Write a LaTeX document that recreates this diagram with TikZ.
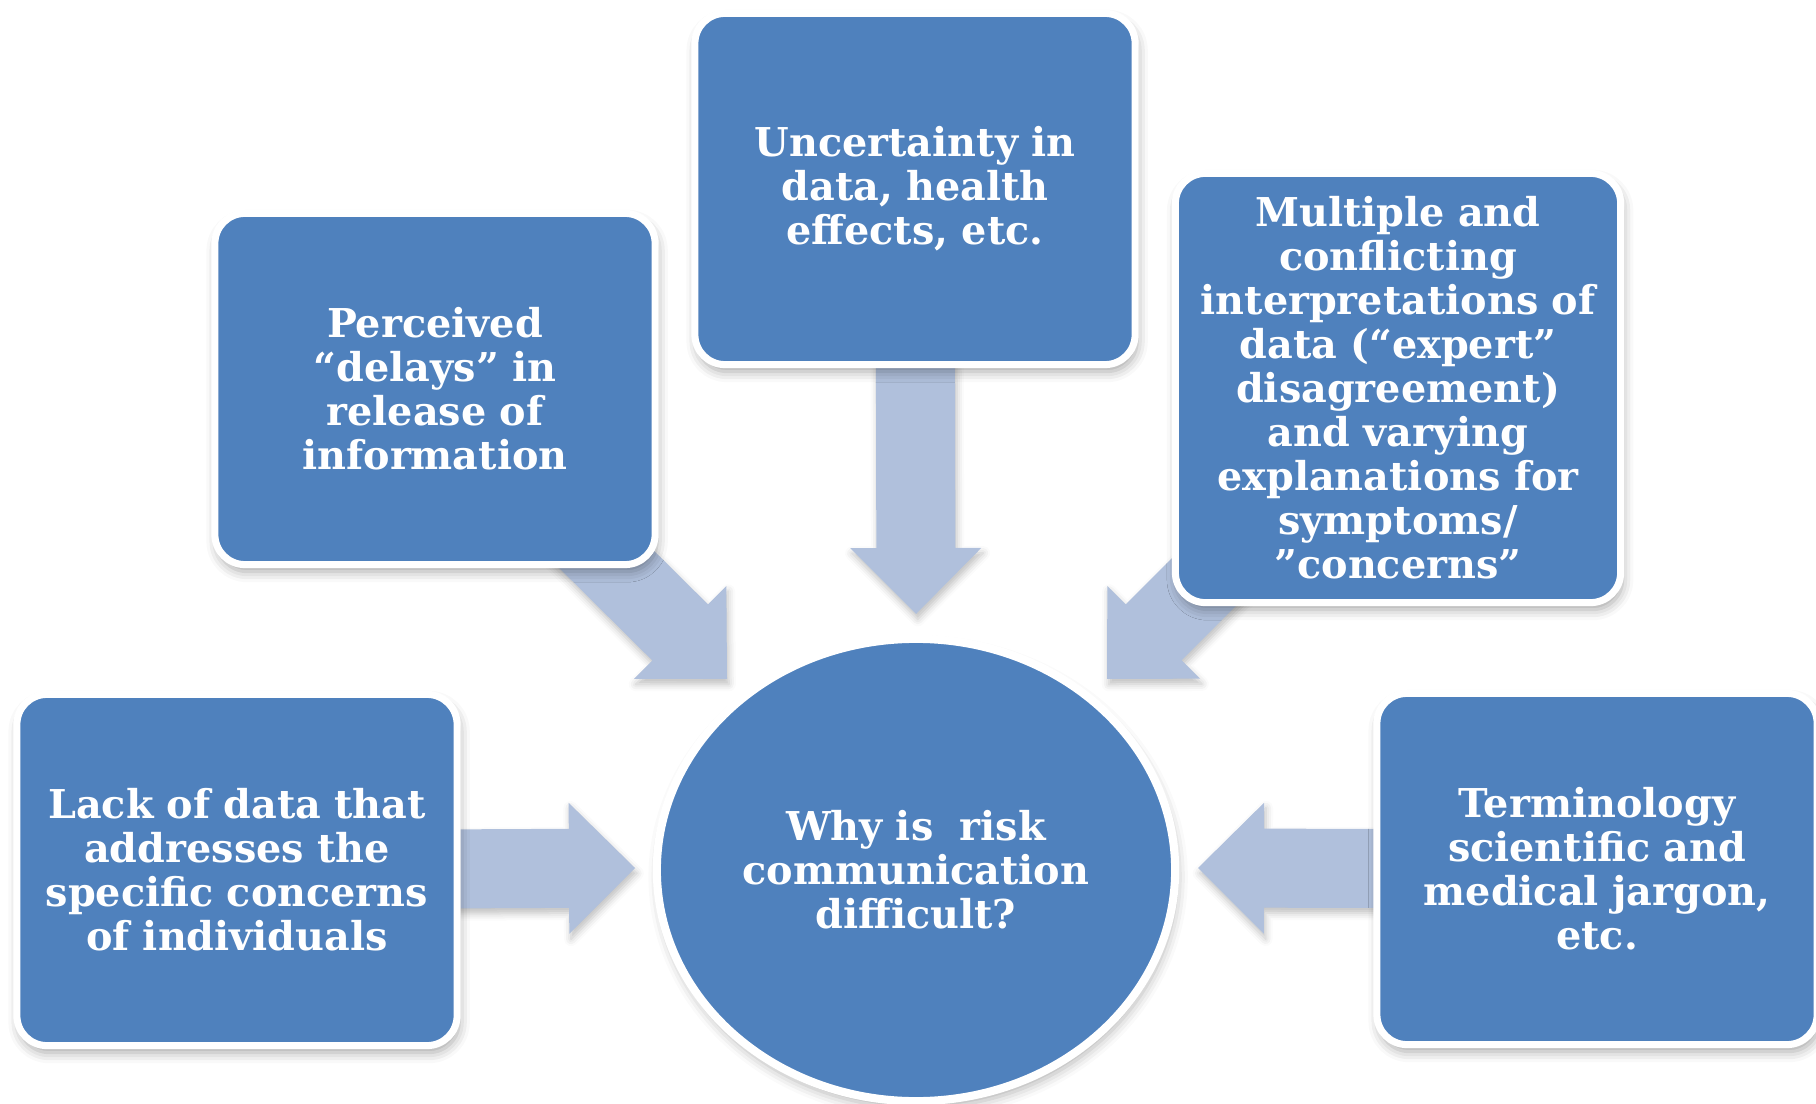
\documentclass[tikz,border=0pt]{standalone}
\usepackage{fontspec}
\newfontfamily\boxfont{DejaVu Serif}
\usetikzlibrary{shapes.geometric,positioning,calc,shadows.blur,backgrounds}

\definecolor{boxblue}{RGB}{79,129,189}
\definecolor{arrowblue}{RGB}{176,192,220}

\tikzset{
  reason/.style={draw=white, line width=2pt, fill=boxblue, rounded corners=0.3cm,
    minimum width=4.39cm, minimum height=3.51cm, inner sep=0pt,
    text width=4.4cm, align=center, text=white,
    font=\boxfont\bfseries\fontsize{11.3}{12.5}\selectfont,
    blur shadow={shadow xshift=0.6pt, shadow yshift=-2pt, shadow opacity=35, shadow blur radius=3pt}},
  question/.style={ellipse, draw=white, line width=2.3pt, fill=boxblue,
    minimum width=5.18cm, minimum height=4.62cm, inner sep=0pt,
    text width=3.55cm, align=center, text=white,
    font=\boxfont\bfseries\fontsize{11.3}{12.5}\selectfont,
    blur shadow={shadow xshift=0.6pt, shadow yshift=-2pt, shadow opacity=30, shadow blur radius=3pt}},
  bigarrow/.style={fill=arrowblue,
    blur shadow={shadow xshift=0.5pt, shadow yshift=-1.5pt, shadow opacity=25, shadow blur radius=2pt}}
}

% block arrow from #1 (tail) to #2 (tip)
\newcommand{\blockarrow}[2]{%
  \path ($(#2)!0.66cm!(#1)$) coordinate (ab);
  \fill[bigarrow] ($(#1)!0.395cm!90:(ab)$) -- ($(ab)!0.395cm!-90:(#1)$)
    -- ($(ab)!0.655cm!-90:(#1)$) -- (#2) -- ($(ab)!0.655cm!90:(#1)$)
    -- ($(ab)!0.395cm!90:(#1)$) -- ($(#1)!0.395cm!-90:(ab)$) -- cycle;
}

\begin{document}
\begin{tikzpicture}[x=0.01cm, y=-0.01cm]
  \useasboundingbox (0,0) rectangle (1816,1104);

  % centre
  \node[question] (why) at (916,870) {Why is\ \ risk\\ communication\\ difficult?};

  % reasons
  \node[reason] (lack) at (237,870) {Lack of data that\\ addresses the\\ specific concerns\\ of individuals};
  \node[reason] (perc) at (435,389) {Perceived\\ “delays” in\\ release of\\ information};
  \node[reason] (unc) at (915,189) {Uncertainty in\\ data, health\\ effects, etc.};
  \node[reason, minimum width=4.45cm, minimum height=4.29cm] (mult) at (1398,388)
    {Multiple and\\ conflicting\\ interpretations of\\ data (“expert”\\ disagreement)\\ and varying\\ explanations for\\ symptoms/\\ ”concerns”};
  \node[reason] (term) at (1597,869) {Terminology\\ scientific and\\ medical jargon,\\ etc.};

  % arrow tips
  \coordinate (tipW) at (635,868);
  \coordinate (tipE) at (1198,868);
  \coordinate (tipN) at (916,614);
  \coordinate (tipNW) at (727,679);
  \coordinate (tipNE) at (1107,679);

  % arrows under the boxes
  \begin{scope}[on background layer]
    \blockarrow{lack.center}{tipW}
    \blockarrow{term.center}{tipE}
    \blockarrow{unc.center}{tipN}
    \blockarrow{perc.center}{tipNW}
    \blockarrow{mult.center}{tipNE}
  \end{scope}
\end{tikzpicture}
\end{document}
